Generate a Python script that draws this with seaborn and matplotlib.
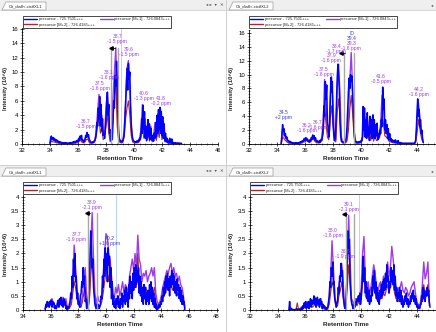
import numpy as np
import pandas as pd
import matplotlib
matplotlib.use("Agg")
import matplotlib.pyplot as plt
import seaborn as sns
from matplotlib.patches import Rectangle, Polygon
from matplotlib.lines import Line2D
from matplotlib.ticker import MultipleLocator, FixedLocator
from matplotlib.transforms import Affine2D

# ---------------- data ----------------
legend_labels = ["precursor - 725.7501+++", "precursor [M+2] - 726.4185+++", "precursor [M+1] - 726.0843+++"]
panel_titles = ["Cit_dia8<-cistfXL1", "Cit_dia8<-cistfXL2", "Cit_dia8<-cistfXL1", "Cit_dia8<-cistfXL2"]

# top-left panel (blue every 0.05 min from 34.0; purple/red every 0.1 min from 34.0)
tl_blue_start = 34.0
tl_blue = [0.1, 0.9, 1.1, 0.6, 0.8, 0.9, 0.5, 0.7, 0.4, 0.6,
           0.5, 0.3, 0.4, 0.2, 0.3, 0.2, 0.25, 0.1, 0.2, 0.1,
           0.15, 0.1, 0.2, 0.1, 0.15, 0.05, 0.1, 0.15, 0.1, 0.2,
           0.1, 0.2, 0.15, 0.3, 0.2, 0.35, 0.2, 0.4, 0.3, 0.5,
           0.3, 0.8, 0.5, 1.1, 0.7, 1.2, 0.5, 0.6, 0.3, 0.4,
           0.6, 1.2, 0.9, 1.6, 1.0, 1.3, 0.6, 0.5, 0.3, 0.2,
           0.2, 0.3, 0.2, 0.4, 0.5, 0.8, 1.5, 3.0, 2.5, 5.0,
           3.5, 6.6, 2.5, 5.5, 1.8, 3.5, 1.2, 1.5, 0.8, 2.0,
           3.5, 6.0, 7.2, 4.0, 5.5, 1.5, 2.0, 0.5, 1.0, 0.6,
           3.0, 6.0, 5.0, 9.5, 8.0, 11.5, 9.0, 4.0, 2.0, 0.8,
           0.5, 0.3, 0.4, 0.3, 0.5, 0.8, 1.5, 3.5, 5.5, 8.0,
           10.5, 7.5, 11.2, 9.0, 10.0, 5.5, 3.0, 1.5, 0.8, 0.5,
           0.4, 0.3, 0.3, 0.2, 0.4, 0.3, 0.5, 0.4, 0.8, 0.6,
           1.5, 3.5, 1.5, 5.4, 2.0, 4.5, 0.8, 2.5, 0.5, 1.2,
           3.4, 1.0, 2.8, 0.6, 2.2, 1.0, 0.5, 1.2, 0.4, 1.5,
           0.8, 3.0, 1.0, 4.0, 1.5, 4.8, 2.0, 5.1, 1.5, 4.5,
           1.2, 3.8, 0.8, 2.8, 0.5, 1.5, 0.3, 0.8, 0.2, 0.4,
           0.1, 0.8, 0.2, 0.1, 0.7, 0.1, 0.2, 0.1, 0.1, 0.2,
           0.1, 0.1, 0.15, 0.05, 0.1, 0.1, 0.05, 0.1, 0.05]
tl_iso_start = 34.0
tl_purple = [0.1, 0.8, 0.6, 0.5, 0.4, 0.3, 0.2, 0.1, 0.1, 0.1,
             0.1, 0.1, 0.1, 0.1, 0.1, 0.1, 0.1, 0.2, 0.2, 0.3,
             0.3, 0.7, 1.0, 0.4, 0.3, 0.6, 1.3, 1.2, 0.4, 0.2,
             0.2, 0.3, 0.5, 1.8, 4.5, 6.9, 3.0, 4.0, 1.2, 1.5,
             5.0, 7.2, 3.0, 0.6, 2.0, 6.5, 10.0, 13.4, 5.0, 1.0,
             0.4, 0.3, 0.4, 2.0, 6.0, 10.5, 11.6, 8.0, 2.5, 0.6,
             0.3, 0.3, 0.4, 0.3, 0.8, 2.0, 5.5, 1.5, 3.5, 0.8,
             3.0, 0.8, 2.5, 0.5, 1.2, 3.0, 1.0, 4.2, 1.8, 4.8,
             1.2, 3.2, 0.6, 1.0, 0.3, 0.6, 0.2, 0.5, 0.1, 0.2,
             0.1, 0.1, 0.1, 0.1, 0.05]
tl_red = [0.05, 0.4, 0.3, 0.3, 0.2, 0.2, 0.1, 0.1, 0.05, 0.05,
          0.05, 0.05, 0.05, 0.05, 0.05, 0.05, 0.05, 0.1, 0.1, 0.15,
          0.15, 0.4, 0.5, 0.2, 0.15, 0.3, 0.6, 0.7, 0.2, 0.1,
          0.1, 0.15, 0.3, 1.0, 2.5, 3.8, 1.5, 2.2, 0.6, 0.8,
          2.5, 4.2, 1.5, 0.3, 1.0, 3.5, 6.5, 9.0, 2.5, 0.5,
          0.2, 0.15, 0.2, 1.0, 3.5, 5.0, 6.0, 4.0, 1.2, 0.3,
          0.15, 0.15, 0.2, 0.15, 0.4, 1.0, 2.5, 0.8, 1.8, 0.4,
          1.5, 0.4, 1.2, 0.3, 0.6, 1.5, 0.5, 2.0, 0.9, 2.5,
          0.6, 1.5, 0.3, 0.5, 0.15, 0.3, 0.1, 0.25, 0.05, 0.1,
          0.05, 0.05, 0.05, 0.05, 0.02]

# top-right panel
tr_blue_start = 34.3
tr_blue = [0.0, 1.5, 2.8, 1.8, 2.2, 1.2, 1.5, 0.8, 1.0, 0.6,
           0.5, 0.3, 0.4, 0.2, 0.3, 0.2, 0.1, 0.2, 0.1, 0.15,
           0.1, 0.2, 0.1, 0.15, 0.1, 0.2, 0.15, 0.3, 0.2, 0.4,
           0.3, 0.5, 0.4, 0.8, 0.5, 0.9, 0.6, 0.7, 0.4, 0.5,
           0.3, 0.6, 0.4, 0.9, 0.7, 1.3, 0.8, 1.2, 0.6, 0.9,
           0.4, 0.5, 0.3, 0.4, 0.2, 0.5, 0.3, 0.6, 0.5, 1.2,
           2.5, 5.5, 4.0, 9.0, 6.5, 8.5, 3.0, 2.5, 1.0, 2.0,
           6.0, 9.6, 7.5, 9.0, 3.0, 1.5, 0.5, 0.8, 2.5, 6.0,
           9.5, 11.5, 10.0, 8.0, 3.0, 1.2, 0.4, 0.3, 0.2, 0.3,
           0.2, 0.3, 0.5, 1.0, 2.5, 5.0, 7.5, 9.5, 8.0, 10.0,
           9.0, 9.8, 7.0, 5.0, 2.0, 1.0, 0.5, 0.3, 0.2, 0.3,
           0.2, 0.3, 0.2, 0.4, 0.3, 0.5, 1.0, 5.4, 2.0, 5.2,
           1.0, 3.5, 0.8, 4.5, 1.2, 2.5, 0.5, 4.0, 1.5, 3.5,
           0.8, 4.2, 1.0, 3.5, 0.8, 2.8, 1.2, 3.0, 0.6, 1.5,
           1.0, 2.0, 1.5, 3.5, 2.5, 8.2, 5.0, 6.5, 2.0, 3.5,
           1.5, 2.8, 0.8, 2.2, 0.6, 1.5, 0.5, 0.8, 0.3, 0.6,
           0.3, 0.5, 0.2, 0.6, 0.2, 0.4, 0.1, 0.5, 0.2, 0.1,
           0.2, 0.1, 0.15, 0.1, 0.1, 0.05, 0.1, 0.1, 0.05, 0.1,
           0.1, 0.05, 0.1, 0.05, 0.1, 0.1, 0.05, 0.1, 0.1, 0.05,
           0.1, 0.2, 0.5, 2.0, 4.5, 6.5, 4.0, 5.0, 2.5, 3.5,
           1.5, 2.0, 0.8, 0.2]
tr_iso_start = 34.3
tr_purple = [0.0, 2.2, 1.2, 1.0, 0.5, 0.3, 0.2, 0.2, 0.1, 0.1,
             0.1, 0.1, 0.1, 0.15, 0.2, 0.3, 0.5, 0.6, 0.9, 0.7,
             0.4, 0.6, 1.0, 1.2, 0.7, 0.4, 0.3, 0.3, 0.4, 1.0,
             3.0, 9.3, 6.0, 2.0, 1.2, 6.5, 9.7, 6.0, 1.0, 0.6,
             8.0, 11.5, 7.0, 1.0, 0.3, 0.2, 0.3, 0.8, 3.5, 9.0,
             13.2, 8.0, 2.0, 0.4, 0.2, 0.2, 0.3, 0.4, 1.0, 4.8,
             2.5, 4.0, 1.8, 3.5, 1.0, 3.8, 0.8, 2.5, 1.0, 1.2,
             1.5, 2.8, 7.0, 5.5, 2.5, 2.0, 1.5, 0.8, 0.5, 0.5,
             0.3, 0.4, 0.3, 0.3, 0.2, 0.15, 0.1, 0.1, 0.1, 0.1,
             0.1, 0.1, 0.1, 0.1, 0.1, 0.1, 0.3, 3.0, 6.0, 4.0,
             2.0, 0.5]
tr_red = [0.0, 1.0, 0.8, 0.5, 0.3, 0.2, 0.1, 0.1, 0.05, 0.05,
          0.05, 0.05, 0.05, 0.1, 0.1, 0.15, 0.3, 0.3, 0.5, 0.4,
          0.2, 0.3, 0.6, 0.7, 0.4, 0.2, 0.15, 0.15, 0.2, 0.6,
          1.5, 5.0, 3.0, 1.0, 0.6, 3.5, 5.5, 3.0, 0.5, 0.3,
          4.5, 6.5, 4.0, 0.5, 0.15, 0.1, 0.15, 0.4, 2.0, 5.0,
          7.0, 4.5, 1.0, 0.2, 0.1, 0.1, 0.15, 0.2, 0.5, 2.5,
          1.2, 2.2, 0.9, 1.8, 0.5, 2.0, 0.4, 1.2, 0.5, 0.6,
          0.8, 1.5, 4.0, 3.0, 1.2, 1.0, 0.8, 0.4, 0.3, 0.3,
          0.15, 0.2, 0.15, 0.15, 0.1, 0.1, 0.05, 0.05, 0.05, 0.05,
          0.05, 0.05, 0.05, 0.05, 0.05, 0.05, 0.15, 1.5, 3.5, 2.2,
          1.0, 0.3]

# bottom-left panel
bl_blue_start = 35.6
bl_blue = [0.0, 0.2, 0.1, 0.3, 0.15, 0.25, 0.1, 0.3, 0.2, 0.35,
           0.1, 0.3, 0.2, 0.25, 0.05, 0.15, 0.05, 0.1, 0.2, 0.35,
           0.1, 0.4, 0.2, 0.45, 0.15, 0.35, 0.1, 0.4, 0.2, 0.3,
           0.05, 0.15, 0.0, 0.1, 0.05, 0.2, 0.3, 0.6, 0.4, 1.2,
           0.8, 1.8, 1.2, 2.0, 1.0, 1.2, 0.4, 0.6, 0.2, 0.3,
           0.1, 0.5, 0.6, 1.0, 0.8, 1.5, 0.9, 1.2, 0.3, 0.4,
           0.05, 0.1, 0.3, 0.6, 1.2, 2.0, 2.8, 2.2, 1.5, 1.8,
           0.8, 0.5, 0.2, 0.1, 0.05, 0.2, 0.1, 0.2, 0.05, 0.1,
           0.2, 0.5, 0.4, 1.2, 0.8, 1.8, 1.2, 2.2, 1.4, 2.0,
           1.0, 2.2, 1.6, 1.9, 0.8, 1.5, 0.4, 1.0, 0.2, 0.5,
           0.1, 0.3, 0.05, 0.4, 0.2, 0.5, 0.1, 0.3, 0.05, 0.4,
           0.2, 0.6, 0.1, 0.5, 0.3, 0.7, 0.2, 0.8, 0.3, 0.6,
           0.1, 0.9, 0.4, 1.2, 0.6, 1.0, 0.4, 1.3, 0.7, 1.5,
           0.8, 1.6, 0.9, 1.4, 1.0, 1.5, 0.6, 1.2, 0.5, 1.0,
           0.3, 0.8, 0.2, 0.9, 0.4, 0.8, 0.2, 0.6, 0.3, 0.7,
           0.2, 0.9, 0.4, 1.0, 0.3, 0.8, 0.2, 0.6, 0.1, 0.4,
           0.05, 0.2, 0.0, 0.1, 0.05, 0.2, 0.1, 0.3, 0.2, 0.5,
           0.3, 0.8, 0.5, 1.0, 0.6, 1.2, 0.8, 1.3, 0.7, 1.1,
           0.5, 1.2, 0.8, 1.4, 0.9, 1.3, 0.7, 1.2, 0.6, 1.0,
           0.5, 1.1, 0.7, 0.9, 0.4, 0.8, 0.3, 0.7, 0.2, 0.5,
           0.2, 0.3, 0.0]
bl_iso_start = 35.6
bl_purple = [0.05, 0.2, 0.3, 0.2, 0.35, 0.4, 0.2, 0.1, 0.15, 0.3,
             0.3, 0.4, 0.35, 0.45, 0.3, 0.4, 0.1, 0.05, 0.15, 0.4,
             1.0, 2.3, 1.5, 0.8, 0.4, 0.2, 0.2, 0.5, 1.2, 1.5,
             0.4, 0.1, 0.5, 2.2, 3.45, 1.8, 0.6, 0.2, 0.5, 0.3,
             0.3, 0.5, 1.2, 2.0, 2.7, 2.6, 2.0, 1.8, 1.2, 0.6,
             0.4, 0.8, 0.6, 0.9, 0.5, 0.7, 1.0, 0.6, 0.9, 0.8,
             0.6, 1.2, 1.5, 1.8, 1.4, 2.0, 1.5, 2.65, 1.8, 1.6,
             1.0, 1.3, 1.2, 1.4, 1.0, 1.2, 1.3, 1.5, 1.2, 1.5,
             0.6, 0.3, 0.2, 0.3, 0.5, 0.8, 1.0, 1.2, 1.4, 1.3,
             1.5, 1.65, 1.3, 1.5, 1.2, 1.3, 1.0, 1.2, 0.9, 0.8,
             0.5, 0.1]
bl_red = [0.05, 0.1, 0.15, 0.1, 0.2, 0.2, 0.1, 0.05, 0.1, 0.15,
          0.15, 0.2, 0.2, 0.25, 0.15, 0.2, 0.05, 0.05, 0.1, 0.2,
          0.6, 1.0, 0.8, 0.4, 0.2, 0.1, 0.1, 0.3, 0.6, 0.8,
          0.2, 0.05, 0.3, 1.2, 1.8, 1.0, 0.3, 0.1, 0.2, 0.15,
          0.15, 0.3, 0.6, 1.0, 1.4, 1.3, 1.0, 1.7, 0.6, 0.3,
          0.2, 0.4, 0.3, 0.5, 0.3, 0.4, 0.5, 0.3, 0.5, 0.4,
          0.3, 0.6, 0.8, 1.0, 0.7, 1.2, 0.8, 2.0, 1.0, 0.9,
          0.5, 0.7, 0.6, 0.8, 0.5, 0.6, 0.7, 0.8, 0.6, 0.8,
          0.3, 0.15, 0.1, 0.15, 0.3, 0.4, 0.5, 0.6, 0.8, 0.7,
          0.8, 1.0, 0.7, 0.8, 0.6, 0.7, 0.5, 0.6, 0.5, 0.4,
          0.3, 0.05]

# bottom-right panel
br_blue_start = 34.8
br_blue = [0.0, 0.3, 0.0, 0.0, 0.05, 0.0, 0.0, 0.02, 0.0, 0.0,
           0.0, 0.05, 0.0, 0.02, 0.0, 0.0, 0.05, 0.0, 0.1, 0.0,
           0.15, 0.05, 0.25, 0.1, 0.3, 0.05, 0.2, 0.1, 0.3, 0.05,
           0.2, 0.4, 0.1, 0.35, 0.2, 0.3, 0.5, 0.2, 0.4, 0.1,
           0.3, 0.45, 0.2, 0.35, 0.1, 0.4, 0.2, 0.3, 0.05, 0.2,
           0.1, 0.15, 0.05, 0.1, 0.0, 0.05, 0.1, 0.3, 0.5, 1.0,
           0.8, 1.5, 1.2, 1.7, 0.9, 1.0, 0.4, 0.3, 0.1, 0.2,
           0.3, 0.8, 0.6, 1.2, 1.0, 1.65, 1.2, 1.4, 0.5, 0.3,
           0.1, 0.05, 0.3, 0.8, 1.6, 2.8, 2.0, 2.5, 1.0, 0.6,
           0.3, 0.2, 0.05, 0.1, 0.2, 0.1, 0.3, 0.2, 0.4, 0.3,
           0.5, 0.3, 0.6, 0.2, 0.4, 0.8, 1.2, 1.9, 1.0, 1.5,
           0.6, 1.0, 0.4, 0.8, 0.3, 0.7, 0.2, 0.5, 0.3, 0.8,
           0.5, 1.2, 0.8, 1.4, 0.6, 1.0, 0.4, 0.8, 0.3, 0.6,
           0.2, 0.7, 0.4, 0.9, 0.5, 1.0, 0.6, 1.1, 0.7, 1.3,
           0.8, 1.6, 1.0, 1.2, 0.6, 1.0, 0.8, 1.5, 1.0, 1.4,
           0.9, 1.6, 0.7, 1.2, 0.5, 0.8, 0.3, 0.6, 0.4, 0.8,
           0.3, 0.7, 0.2, 0.5, 0.1, 0.3, 0.2, 0.5, 0.3, 0.6,
           0.2, 0.4, 0.1, 0.3, 0.2, 0.5, 0.3, 0.6, 0.4, 0.7,
           0.3, 0.5, 0.2, 0.4, 0.1, 0.2, 0.05, 0.1, 0.05, 0.2,
           0.2, 0.5, 0.3, 0.8, 0.4, 0.7, 0.3, 0.6, 0.5, 0.8,
           0.5, 0.7, 0.3, 0.1]
br_iso_start = 34.8
br_purple = [0.0, 0.1, 0.0, 0.0, 0.02, 0.0, 0.05, 0.0, 0.02, 0.05,
             0.1, 0.2, 0.15, 0.3, 0.1, 0.25, 0.35, 0.2, 0.3, 0.45,
             0.35, 0.3, 0.3, 0.4, 0.2, 0.1, 0.05, 0.05, 0.1, 0.4,
             1.2, 2.45, 1.5, 0.5, 0.2, 0.3, 0.9, 1.2, 1.65, 1.0,
             0.2, 0.3, 1.5, 3.35, 1.8, 0.4, 0.3, 0.2, 0.4, 0.3,
             0.5, 0.4, 0.8, 2.0, 2.6, 1.0, 0.8, 1.0, 0.6, 0.8,
             1.2, 1.6, 1.3, 0.8, 0.6, 0.9, 1.0, 0.8, 1.2, 1.0,
             1.3, 1.7, 1.2, 1.5, 2.25, 1.8, 1.2, 0.8, 0.7, 0.5,
             0.8, 1.0, 0.7, 0.6, 0.8, 0.7, 0.5, 0.6, 0.8, 0.9,
             1.0, 0.6, 0.3, 0.2, 0.1, 0.4, 0.9, 1.7, 1.1, 1.3,
             1.7, 0.3]
br_red = [0.0, 0.05, 0.0, 0.0, 0.0, 0.0, 0.25, 0.0, 0.0, 0.02,
          0.05, 0.1, 0.1, 0.15, 0.05, 0.15, 0.2, 0.1, 0.15, 0.25,
          0.2, 0.15, 0.15, 0.2, 0.1, 0.05, 0.02, 0.02, 0.05, 0.2,
          0.6, 1.0, 0.8, 0.3, 0.1, 0.15, 0.5, 0.7, 1.0, 0.5,
          0.1, 0.15, 0.8, 1.6, 1.0, 0.2, 0.15, 0.1, 0.2, 0.15,
          0.3, 0.2, 0.4, 1.0, 1.2, 0.5, 0.4, 0.5, 0.3, 0.4,
          0.6, 0.8, 0.6, 0.4, 0.3, 0.5, 0.5, 0.4, 0.6, 0.5,
          0.7, 0.9, 0.6, 0.8, 1.2, 0.9, 0.6, 0.4, 0.4, 0.3,
          0.4, 0.5, 0.4, 0.3, 0.4, 0.4, 0.3, 0.3, 0.4, 0.5,
          0.5, 0.3, 0.15, 0.1, 0.05, 0.2, 0.5, 0.9, 0.6, 0.7,
          0.9, 0.15]

# x tick values shown on each panel
tl_xticks = [32, 34, 36, 38, 40, 42, 44, 46]
tr_xticks = [32, 34, 36, 38, 40, 42, 44]
bl_xticks = [34, 36, 38, 40, 42, 44, 46, 48]
br_xticks = [32, 34, 36, 38, 40, 42, 44]

# peak annotations: (time, y, text, colour-key)
tl_notes = [(36.55, 2.1, "36.7\n-1.5 ppm", "p"), (37.55, 7.4, "37.5\n-1.6 ppm", "p"),
            (38.2, 8.9, "38.1\n-1.6 ppm", "p"), (38.8, 13.9, "38.7\n-1.5 ppm", "p"),
            (39.64, 12.1, "39.6\n-1.5 ppm", "p"), (40.73, 6.0, "40.6\n-1.3 ppm", "p"),
            (41.93, 5.3, "41.8\n-0.2 ppm", "p")]
tr_notes = [(34.47, 3.4, "34.5\n+2 ppm", "b"), (36.1, 1.65, "36.2\n-1.6 ppm", "p"),
            (36.92, 2.0, "36.7\n-1.6 ppm", "p"), (37.35, 9.7, "37.5\n-1.6 ppm", "p"),
            (37.87, 11.65, "37.9\n-1.6 ppm", "p"), (38.23, 12.96, "38.4\n-1.7 ppm", "p"),
            (39.3, 13.35, "39.3\n-1.6 ppm", "p"), (39.34, 14.9, "ID\n39.4", "b"),
            (41.43, 8.6, "41.6\n-0.5 ppm", "p"), (44.12, 6.75, "44.2\n-1.6 ppm", "p")]
bl_notes = [(37.84, 2.42, "37.7\n-1.9 ppm", "p"), (38.99, 3.53, "38.9\n-2.1 ppm", "p"),
            (40.29, 2.25, "40.2\n+1.6 ppm", "b")]
br_notes = [(37.94, 2.54, "38.0\n-1.8 ppm", "p"), (38.85, 1.79, "38.6\n-1.9 ppm", "p"),
            (39.09, 3.47, "39.1\n-2.1 ppm", "p")]

# peak boundaries, marker, predicted RT
tl_bounds, tl_mark, tl_pred = [38.39, 38.88], (38.39, 13.4), 39.05
tr_bounds, tr_mark, tr_pred = [38.75, 39.53], (38.6, 13.1), None
bl_bounds, bl_mark, bl_pred = [38.73, 39.35], (38.62, 3.45), 40.74
br_bounds, br_mark, br_pred = [38.9, 39.45], (38.76, 3.39), 39.86

# ---------------- style ----------------
sns.set_theme(style="white")
plt.rcParams['font.family'] = ['Liberation Sans', 'DejaVu Sans']

BLUE = "#0000FF"
PURPLE = "#9B3BEA"
RED = "#A52A2A"
note_col = {"p": "#9B3BEA", "b": "#3A3AE8"}

W, H = 436, 332
fig = plt.figure(figsize=(W / 100, H / 100), dpi=100)
fig.patch.set_facecolor("white")
pix = Affine2D().scale(1 / W, -1 / H).translate(0, 1) + fig.transFigure


def add_axes_px(left, right, y0, ytop):
    return fig.add_axes([left / W, 1 - y0 / H, (right - left) / W, (y0 - ytop) / H])


def series_df(start, step, vals, name):
    t = np.round(start + step * np.arange(len(vals)), 3)
    return pd.DataFrame({"time": t, "intensity": vals, "series": name})


def draw_panel(ax, blue, bstart, purple, red, istart, xlim, ylim, xticks, ymaj, ymin,
               notes, bounds, mark, pred, legend_px):
    dfp = series_df(istart, 0.1, purple, "p")
    dfb = series_df(bstart, 0.05, blue, "b")
    dfr = series_df(istart, 0.1, red, "r")
    sns.lineplot(data=dfp, x="time", y="intensity", ax=ax, color=PURPLE, lw=1.0,
                 estimator=None, sort=False, legend=False)
    sns.lineplot(data=dfr, x="time", y="intensity", ax=ax, color=RED, lw=0.8,
                 estimator=None, sort=False, legend=False)
    sns.lineplot(data=dfb, x="time", y="intensity", ax=ax, color=BLUE, lw=1.1,
                 estimator=None, sort=False, legend=False)
    if pred is not None:
        ax.axvline(pred, color="#A8D0F0", lw=0.6, zorder=1)
    for b in bounds:
        ax.plot([b, b], [0, mark[1]], color="#A8A8A8", lw=1.0, zorder=3)
    ax.plot([mark[0], mark[0] + 0.25], [mark[1], mark[1]], color="black", lw=0.6, zorder=4)
    ax.plot([mark[0]], [mark[1]], marker="<", color="black", ms=2.5, zorder=4)
    for x, y, txt, c in notes:
        ax.text(x, y, txt, ha="center", va="bottom", fontsize=3.6, color=note_col[c],
                linespacing=1.0, zorder=5)
    ax.set_xlim(*xlim)
    ax.set_ylim(*ylim)
    ax.xaxis.set_major_locator(FixedLocator(xticks))
    ax.xaxis.set_minor_locator(MultipleLocator(0.4))
    ax.yaxis.set_major_locator(MultipleLocator(ymaj))
    ax.yaxis.set_minor_locator(MultipleLocator(ymin))
    ax.yaxis.set_major_formatter(matplotlib.ticker.FuncFormatter(lambda v, p: f"{v:g}"))
    for s in ["top", "right"]:
        ax.spines[s].set_visible(False)
    for s in ["left", "bottom"]:
        ax.spines[s].set_color("black")
        ax.spines[s].set_linewidth(0.6)
    ax.tick_params(which="major", direction="inout", length=3.5, width=0.5,
                   labelsize=4.3, pad=1.2, colors="black", left=True, bottom=True)
    ax.tick_params(which="minor", direction="inout", length=1.8, width=0.4, left=True, bottom=True)
    ax.set_xlabel("")
    ax.set_ylabel("")
    ax.set_facecolor("white")
    handles = [Line2D([], [], color=BLUE, lw=1.0), Line2D([], [], color=RED, lw=1.0),
               Line2D([], [], color=PURPLE, lw=1.0)]
    leg = ax.legend(handles, legend_labels, ncol=2, loc="upper left",
                    bbox_to_anchor=(legend_px[0] / W, 1 - legend_px[1] / H),
                    bbox_transform=fig.transFigure, fontsize=2.9, frameon=True,
                    fancybox=False, edgecolor="black", framealpha=1, borderpad=0.35,
                    handlelength=3.2, handletextpad=0.4, columnspacing=1.2,
                    labelspacing=0.3, borderaxespad=0)
    leg.get_frame().set_linewidth(0.5)


ax_tl = add_axes_px(22, 218, 144, 27.5)
draw_panel(ax_tl, tl_blue, tl_blue_start, tl_purple, tl_red, tl_iso_start, (32, 46), (0, 16.2),
           tl_xticks, 2, 0.4, tl_notes, tl_bounds, tl_mark, tl_pred, (23, 16))
ax_tr = add_axes_px(249, 445, 144, 30.2)
draw_panel(ax_tr, tr_blue, tr_blue_start, tr_purple, tr_red, tr_iso_start, (32, 46), (0, 16.4),
           tr_xticks, 2, 0.4, tr_notes, tr_bounds, tr_mark, tr_pred, (249, 16))
ax_bl = add_axes_px(23, 218, 310, 195.3)
draw_panel(ax_bl, bl_blue, bl_blue_start, bl_purple, bl_red, bl_iso_start, (34, 48.1), (0, 4.06),
           bl_xticks, 0.5, 0.1, bl_notes, bl_bounds, bl_mark, bl_pred, (23, 182))
ax_br = add_axes_px(250, 444.6, 310, 195.3)
draw_panel(ax_br, br_blue, br_blue_start, br_purple, br_red, br_iso_start, (32, 46), (0, 4.06),
           br_xticks, 0.5, 0.1, br_notes, br_bounds, br_mark, br_pred, (250, 182))

# axis titles in pixel positions
for (xl, yl), (xy, yy) in [((120, 159), (5, 88)), ((346, 159), (231, 88)),
                           ((120, 325), (5, 254)), ((346, 325), (231, 254))]:
    fig.text(xl / W, 1 - yl / H, "Retention Time", ha="center", va="center",
             fontsize=4.6, fontweight="bold")
    fig.text(xy / W, 1 - yy / H, "Intensity (10^6)", ha="center", va="center",
             rotation=90, fontsize=4.2, fontweight="bold")

# ---------------- window chrome ----------------
def rect(x, y, w, h, fc, ec="none", lw=0.5, z=10):
    fig.add_artist(Rectangle((x, y), w, h, transform=pix, fc=fc, ec=ec, lw=lw, zorder=z))


rect(219.5, 10, 6.5, 156, "white")
rect(219.5, 176, 6.5, 156, "white")
for ytop in (0, 166):
    rect(0, ytop, 436, 10, "#EFEFEF")
    fig.add_artist(Line2D([0, 436], [ytop + 10, ytop + 10], transform=pix, color="#C8C8C8",
                          lw=0.5, zorder=11))
fig.add_artist(Line2D([225.5, 225.5], [0, 332], transform=pix, color="#C8C8C8", lw=0.6, zorder=11))
fig.add_artist(Line2D([0, 436], [165, 165], transform=pix, color="#C8C8C8", lw=0.6, zorder=11))

for (x0, ytop), title in zip([(2, 0), (229, 0), (2, 166), (229, 166)], panel_titles):
    poly = Polygon([(x0, ytop + 10), (x0 + 4, ytop + 2), (x0 + 44, ytop + 2), (x0 + 44, ytop + 10)],
                   closed=True, transform=pix, fc="white", ec="#9A9A9A", lw=0.5, zorder=12)
    fig.add_artist(poly)
    fig.text((x0 + 7) / W, 1 - (ytop + 6.3) / H, title, ha="left", va="center",
             fontsize=3.0, color="#222222", zorder=13)

for ytop in (0, 166):
    fig.text(206 / W, 1 - (ytop + 5.5) / H, "◂ ▸  ▾", ha="left", va="center", fontsize=3.2,
             color="#444444", family=["DejaVu Sans"], zorder=13)
    fig.text(221 / W, 1 - (ytop + 5.5) / H, "✕", ha="center", va="center", fontsize=3.2,
             color="#444444", family=["DejaVu Sans"], zorder=13)
    fig.text(431 / W, 1 - (ytop + 5.5) / H, "◂", ha="left", va="center", fontsize=3.2,
             color="#444444", family=["DejaVu Sans"], zorder=13)

fig.savefig("out.png", dpi=100, facecolor="white")
